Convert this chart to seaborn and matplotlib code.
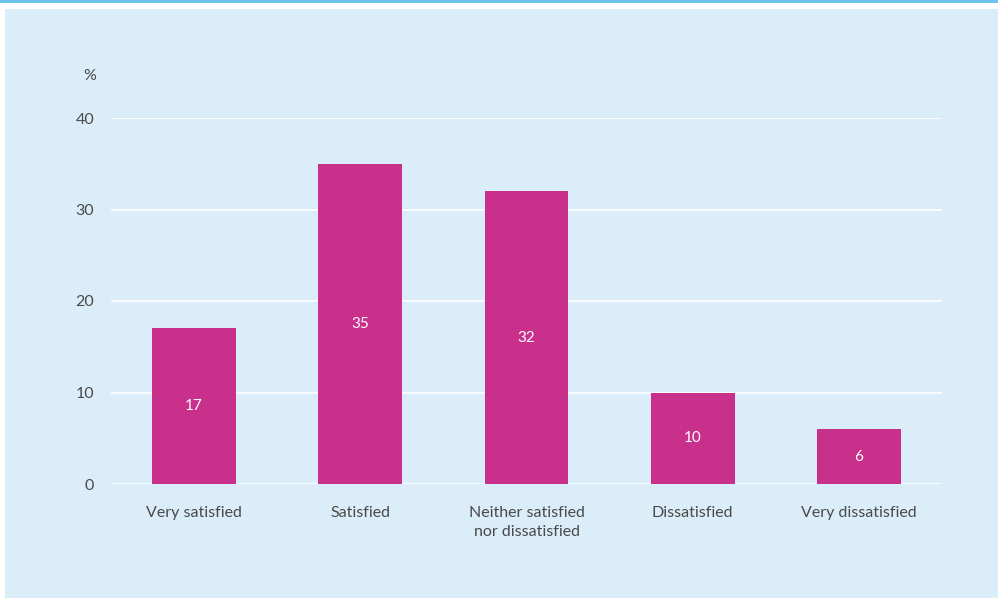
import matplotlib
matplotlib.use('Agg')
import matplotlib.pyplot as plt
import seaborn as sns
from matplotlib.patches import Rectangle

categories = ['Very satisfied', 'Satisfied', 'Neither satisfied\nnor dissatisfied',
              'Dissatisfied', 'Very dissatisfied']
values = [17, 35, 32, 10, 6]
y_ticks = [0, 10, 20, 30, 40]

bg = '#daedf8'
bar_color = '#c8308c'
text_color = '#4a4a4a'

sns.set_style('white')
plt.rcParams['font.family'] = ['Lato', 'DejaVu Sans']

fig = plt.figure(figsize=(9.98, 5.98), dpi=100, facecolor='white')
# light blue panel and top rule
fig.patches.append(Rectangle((5 / 998, 0), 1, (598 - 9) / 598, transform=fig.transFigure,
                             facecolor=bg, edgecolor='none', zorder=-2))
fig.patches.append(Rectangle((0, (598 - 3) / 598), 1, 3 / 598, transform=fig.transFigure,
                             facecolor='#6ec3ea', edgecolor='none', zorder=-1))

ax = fig.add_axes([111 / 998, (598 - 484) / 598, (942 - 111) / 998, (484 - 118) / 598])
ax.set_facecolor(bg)

sns.barplot(x=categories, y=values, color=bar_color, width=0.505, saturation=1,
            linewidth=0, edgecolor='none', ax=ax, zorder=3)
for c in ax.containers:
    ax.bar_label(c, label_type='center', color='white', fontsize=11)

ax.set_ylim(0, 40)
ax.set_xlim(-0.5, 4.5)
ax.set_yticks(y_ticks)
ax.grid(axis='y', color='white', linewidth=1.2, zorder=0)
ax.set_axisbelow(True)
for s in ax.spines.values():
    s.set_visible(False)
ax.tick_params(axis='both', length=0, colors=text_color, labelsize=11.5)
ax.tick_params(axis='y', pad=12)
ax.tick_params(axis='x', pad=16)
for lbl in ax.get_xticklabels():
    lbl.set_linespacing(1.45)
ax.set_xlabel('')
ax.set_ylabel('')
ax.text(-0.018, 1.115, '%', transform=ax.transAxes, ha='right', va='center',
        fontsize=11.5, color=text_color)

fig.savefig('out.png', dpi=100, facecolor='white')
